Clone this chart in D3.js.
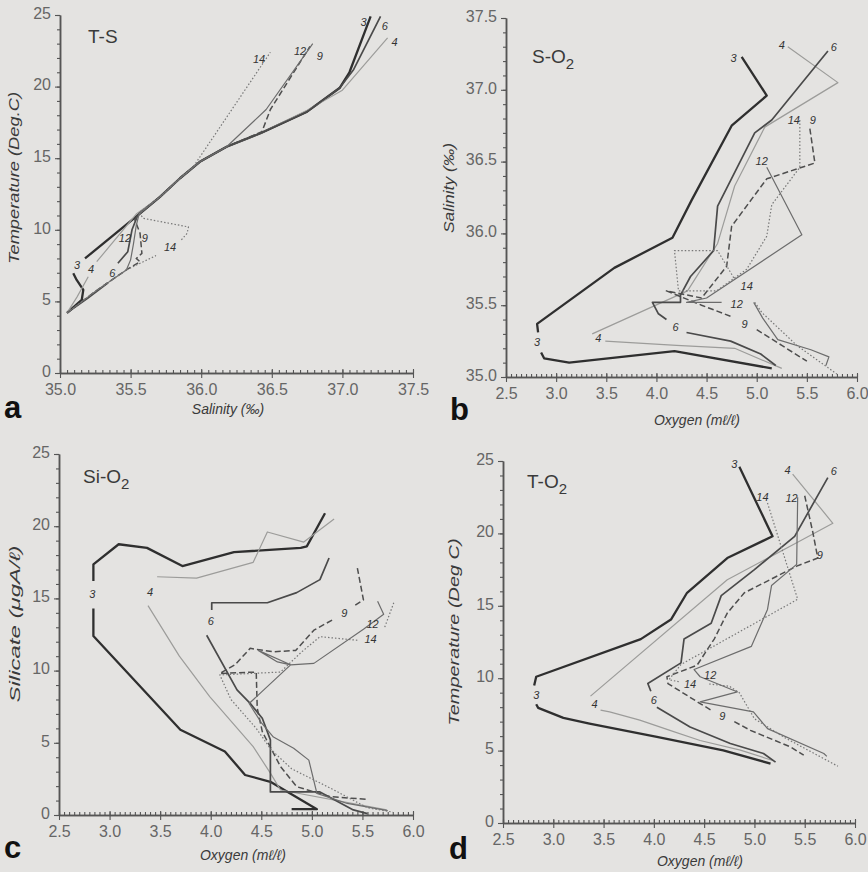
<!DOCTYPE html>
<html><head><meta charset="utf-8">
<script src="https://cdn.jsdelivr.net/npm/d3@7"></script>
<style>body{margin:0;background:#e4e3e1;} svg{display:block;}</style>
</head><body><svg id="c" width="868" height="872"></svg>
<script>
// ---------- Panel a: T-S  [salinity, temperature] ----------
const tsS3 = [[35.05,4.2],[35.154,5.1],[35.165,5.8],[35.118,6.5],[35.094,6.96],null,[35.177,8.0],[35.567,11.15],[35.708,12.3],[35.85,13.6],[35.99,14.75],[36.18,15.8],[36.42,16.74],[36.75,18.25],[36.98,19.9],[37.05,21.0],[37.2,24.9]];
const tsS4 = [[35.05,4.2],[35.12,5.3],[35.2,6.72],null,[35.26,7.77],[35.54,11.1],[35.708,12.3],[35.85,13.6],[35.99,14.75],[36.18,15.8],[36.42,16.74],[36.75,18.35],[37.0,19.75],[37.32,23.4]];
const tsS6 = [[35.05,4.2],[35.2,5.25],[35.34,6.3],null,[35.41,7.66],[35.48,8.47],[35.51,10.0],[35.55,11.0],[35.708,12.3],[35.85,13.6],[35.99,14.75],[36.18,15.8],[36.42,16.74],[36.75,18.25],[36.98,19.9],[37.08,21.2],[37.27,24.9]];
const tsS9 = [[35.05,4.2],[35.25,5.7],[35.47,7.2],[35.567,7.77],[35.54,8.0],[35.58,8.35],[35.567,9.75],[35.53,10.7],[35.56,11.15],[35.708,12.3],[35.85,13.6],[35.99,14.75],[36.18,15.8],[36.43,16.85],[36.49,18.4],[36.77,22.8]];
const tsS12 = [[35.05,4.2],[35.25,5.7],[35.47,7.2],[35.5,7.9],[35.52,9.0],[35.54,10.3],[35.56,11.1],[35.708,12.3],[35.85,13.6],[35.99,14.75],[36.18,15.8],[36.46,18.4],[36.79,23.0]];
const tsS14 = [[35.05,4.2],[35.25,5.7],[35.47,7.2],[35.68,8.2],null,[35.86,9.3],[35.9,9.75],[35.91,10.2],[35.59,10.8],[35.56,11.2],[35.708,12.3],[35.85,13.6],[35.944,14.4],[36.49,22.4]];
const tsLabels = [["3",37.15,24.5],["6",37.3,24.2],["4",37.37,23.1],["12",36.7,22.5],["9",36.84,22.1],["14",36.41,21.9],["3",35.12,7.5],["4",35.22,7.25],["6",35.37,7.0],["12",35.46,9.4],["9",35.6,9.4],["14",35.78,8.8]];

// ---------- Panel b: S-O2  [oxygen, salinity] ----------
const sbS3 = [[4.85,37.23],[5.1,36.96],[4.75,36.75],[4.35,36.23],[4.16,35.97],[3.58,35.76],[2.81,35.37],[2.82,35.31],null,[2.85,35.17],[2.88,35.13],[3.13,35.1],[4.18,35.18],[5.15,35.06]];
const sbS4 = [[5.31,37.3],[5.81,37.05],[5.08,36.74],[4.78,36.33],[4.61,35.93],[4.31,35.6],[3.36,35.3],null,[3.49,35.25],[4.2,35.22],[4.78,35.2],[5.25,35.06]];
const sbS6 = [[5.71,37.27],[5.15,36.79],[4.98,36.7],[4.61,36.19],[4.57,35.88],[4.34,35.7],[4.24,35.57],[4.24,35.52],[3.96,35.52],[4.02,35.44],[4.1,35.4],null,[4.3,35.31],[4.74,35.25],[5.04,35.16],[5.19,35.08]];
const sbS9 = [[5.53,36.73],[5.58,36.49],[5.1,36.38],[4.75,36.05],[4.7,35.77],[4.45,35.55],[4.1,35.6],[4.45,35.5],[4.75,35.42],null,[5.0,35.33],[5.25,35.22],[5.5,35.11]];
const sbS12 = [[5.1,36.46],[5.45,35.99],[4.5,35.55],[4.3,35.52],[4.65,35.52],null,[4.97,35.52],[5.06,35.41],[5.21,35.26],[5.54,35.19],[5.72,35.14],[5.69,35.08]];
const sbS14 = [[5.43,36.79],[5.43,36.46],[5.15,36.2],[5.1,35.98],[4.9,35.75],[4.6,35.6],[4.22,35.6],[4.18,35.88],[4.61,35.88],[4.78,35.68],null,[4.98,35.52],[5.05,35.45],[5.4,35.22],[5.8,35.02]];
const sbLabels = [["3",4.77,37.22],["4",5.25,37.31],["6",5.77,37.3],["14",5.37,36.79],["9",5.56,36.79],["12",5.05,36.5],["3",2.81,35.24],["4",3.42,35.27],["6",4.19,35.35],["12",4.8,35.51],["9",4.88,35.37],["14",4.9,35.63]];

// ---------- Panel c: Si-O2  [oxygen, silicate] ----------
const csS3 = [[4.8,0.4],[5.05,0.4],[4.59,2.3],[4.34,2.77],[4.14,4.4],[3.7,5.9],[2.84,12.4],[2.84,14.3],null,[2.84,16.2],[2.84,17.36],[3.09,18.75],[3.37,18.5],[3.72,17.24],[4.23,18.2],[4.89,18.5],[4.95,18.6],[5.13,20.9]];
const csS4 = [[5.74,0.35],[4.69,1.73],[4.59,2.9],[4.42,4.73],[3.99,8.2],[3.69,11.0],[3.38,14.5],null,[3.47,16.5],[3.86,16.4],[4.42,17.5],[4.56,19.6],[4.92,18.9],[5.22,20.5]];
const csS6 = [[5.17,17.8],[5.08,16.3],[4.85,15.4],[4.56,14.7],[4.01,14.7],[4.01,14.2],null,[3.96,12.45],[4.26,8.66],[4.39,7.73],[4.51,6.7],[4.59,5.2],[4.59,1.6],[5.08,1.6],[5.41,0.35],[5.55,0.1]];
const csS9 = [[5.45,17.1],[5.51,14.9],[5.42,14.5],null,[5.2,13.5],[5.02,12.8],[4.84,11.4],[4.62,11.3],[4.39,11.54],[4.24,10.4],[4.09,9.8],[4.45,9.9],[4.46,7.4],[4.51,5.77],[4.69,3.35],[4.85,1.96],[5.18,1.27],[5.55,1.08]];
const csS12 = [[5.65,14.8],[5.71,13.9],[5.51,12.86],[5.02,10.5],[4.79,10.4],[4.66,10.6],[4.47,11.4],[4.79,10.4],[4.38,7.72],[4.5,6.4],[4.62,5.4],[4.82,4.62],[4.97,3.8],[5.05,1.5],[5.35,0.8],[5.75,0.3]];
const csS14 = [[5.81,14.7],[5.72,13.0],null,[5.45,12.1],[5.08,12.35],[4.9,11.3],[4.69,9.9],[4.09,9.7],[4.2,8.0],[4.45,6.0],[4.6,4.5],[4.8,3.2],[5.2,1.8],[5.55,0.5],[5.8,0.2]];
const csLabels = [["3",2.83,15.3],["4",3.4,15.4],["6",4.0,13.4],["9",5.32,13.95],["12",5.6,13.2],["14",5.58,12.2]];

// ---------- Panel d: T-O2  [oxygen, temperature] ----------
const dtS3 = [[4.85,24.6],[5.18,19.8],[4.73,18.3],[4.33,15.9],[4.17,14.05],[3.87,12.7],[2.83,10.1],[2.81,9.5],null,[2.83,8.2],[2.85,7.95],[3.1,7.26],[3.36,6.87],[4.03,5.94],[4.69,5.02],[5.16,4.1]];
const dtS4 = [[5.38,24.1],[5.78,20.7],[5.42,19.35],[4.73,16.8],[3.37,8.76],null,[3.47,7.8],[3.56,7.67],[3.86,7.1],[4.16,6.4],[4.46,5.7],[4.86,5.03],[5.19,4.3]];
const dtS6 = [[5.73,23.85],[5.4,19.8],[5.0,17.5],[4.67,15.7],[4.57,13.8],[4.3,12.7],[4.27,11.06],[3.94,9.63],[3.97,9.1],null,[4.03,8.0],[4.36,6.63],[4.76,5.49],[5.09,4.8],[5.21,4.2]];
const dtS9 = [[5.5,22.6],[5.58,20.1],[5.63,18.3],[5.42,17.74],[4.9,15.9],[4.73,14.5],[4.6,12.7],[4.43,10.9],[4.13,10.1],[4.14,9.63],[4.46,8.25],[4.58,7.75],null,[4.8,7.0],[4.96,6.4],[5.36,5.25],[5.49,4.68]];
const dtS12 = [[5.43,22.5],[5.42,17.86],[5.17,16.4],[5.13,14.75],[4.97,12.2],[4.4,10.6],[4.46,10.1],[4.79,9.17],[4.83,9.06],[4.46,8.36],[4.99,7.67],[5.13,6.52],[5.69,4.8],[5.72,4.6]];
const dtS14 = [[5.13,22.1],[5.43,15.45],[4.27,10.95],[4.15,9.9],[4.25,9.75],null,[4.55,9.6],[4.75,9.45],[4.85,9.0],[5.0,7.2],[5.3,5.9],[5.83,3.92]];
const dtLabels = [["3",4.8,24.8],["4",5.33,24.4],["6",5.79,24.3],["14",5.08,22.5],["12",5.37,22.4],["9",5.65,18.5],["3",2.83,8.8],["4",3.41,8.2],["6",4.0,8.5],["12",4.56,10.2],["14",4.36,9.6],["9",4.68,7.35]];

const stations = ["3","4","6","9","12","14"];
const styles = {
  "3": {stroke:"#2f2f2f", w:2.3, dash:null},
  "4": {stroke:"#9c9c9a", w:1.2, dash:null},
  "6": {stroke:"#4a4a4a", w:1.7, dash:null},
  "9": {stroke:"#4e4e4e", w:1.5, dash:"6,3"},
  "12": {stroke:"#6c6c6c", w:1.2, dash:null},
  "14": {stroke:"#777777", w:1.2, dash:"1.5,2"}
};

const svg = d3.select('#c');
svg.append('rect').attr('width',868).attr('height',872).attr('fill','#e4e3e1');

function panel(cfg){
  const x = d3.scaleLinear().domain(cfg.xDomain).range(cfg.xRange);
  const y = d3.scaleLinear().domain(cfg.yDomain).range(cfg.yRange);
  const g = svg.append('g');
  const y0 = cfg.yRange[0], x0 = cfg.xRange[0];

  const gxm = g.append('g').attr('transform',`translate(0,${y0})`)
    .call(d3.axisTop(x).tickValues(cfg.xMinor).tickSize(3).tickSizeOuter(0).tickFormat(''));
  const gym = g.append('g').attr('transform',`translate(${x0},0)`)
    .call(d3.axisLeft(y).tickValues(cfg.yMinor).tickSize(3).tickSizeOuter(0).tickFormat(''));
  const gx = g.append('g').attr('transform',`translate(0,${y0})`)
    .call(d3.axisBottom(x).tickValues(cfg.xMajor).tickSize(5).tickPadding(6).tickSizeOuter(0).tickFormat(d3.format('.1f')));
  const gy = g.append('g').attr('transform',`translate(${x0},0)`)
    .call(d3.axisLeft(y).tickValues(cfg.yMajor).tickSize(5).tickPadding(4).tickSizeOuter(0).tickFormat(cfg.yFmt));
  [gxm,gym,gx,gy].forEach(a=>{
    a.selectAll('path.domain').attr('stroke','#555').attr('stroke-width',1.5);
    a.selectAll('.tick line').attr('stroke','#555').attr('stroke-width',1.1);
    a.selectAll('.tick text').attr('fill','#666').attr('font-size',16)
      .attr('font-family','Liberation Sans, Arial, sans-serif');
  });
  gx.selectAll('.tick line').attr('y1',-4);
  gy.selectAll('.tick text').attr('dy','0.2em');

  const line = d3.line().defined(d=>d!=null).x(d=>x(d[0])).y(d=>y(d[1]));
  cfg.series.forEach((s,i)=>{
    const st = styles[stations[i]];
    g.append('path').datum(s).attr('d',line).attr('fill','none')
      .attr('stroke',st.stroke).attr('stroke-width',st.w)
      .attr('stroke-dasharray',st.dash).attr('stroke-linejoin','round');
  });
  g.selectAll('text.st').data(cfg.labels).enter().append('text').attr('class','st')
    .attr('x',d=>x(d[1])).attr('y',d=>y(d[2])).attr('text-anchor','middle').attr('dy','0.35em')
    .attr('font-size',11).attr('font-style','italic').attr('fill','#333')
    .attr('font-family','Liberation Sans, Arial, sans-serif').text(d=>d[0]);

  const tt = g.append('text').attr('x',cfg.title.x).attr('y',cfg.title.y)
    .attr('font-size',19).attr('fill','#3a3a3a').attr('font-family','Liberation Sans, Arial, sans-serif')
    .text(cfg.title.t);
  if (cfg.title.sub){
    tt.append('tspan').attr('dy',6).attr('font-size',15).text(cfg.title.sub);
  }
  g.append('text').attr('x',cfg.xTitle.x).attr('y',cfg.xTitle.y).attr('text-anchor','middle')
    .attr('font-size',14).attr('font-style','italic').attr('fill','#3a3a3a')
    .attr('font-family','Liberation Sans, Arial, sans-serif').text(cfg.xTitle.t);
  g.append('text').attr('transform',`translate(${cfg.yTitle.x},${cfg.yTitle.y}) rotate(-90)`)
    .attr('text-anchor','middle').attr('dy','0.35em')
    .attr('font-size',15).attr('font-style','italic').attr('fill','#3a3a3a')
    .attr('textLength',cfg.yTitle.len).attr('lengthAdjust','spacingAndGlyphs')
    .attr('font-family','Liberation Sans, Arial, sans-serif').text(cfg.yTitle.t);
  g.append('text').attr('x',cfg.letter.x).attr('y',cfg.letter.y)
    .attr('font-size',31).attr('font-weight','bold').attr('fill','#111')
    .attr('font-family','Liberation Sans Narrow, Liberation Sans, Arial, sans-serif')
    .text(cfg.letter.t);
}

const oxMajor = d3.range(2.5,6.01,0.5), oxMinor = d3.range(2.5,6.001,0.05);
const t25Major = [0,5,10,15,20,25], t25Minor = d3.range(0,25.01,1);
const intFmt = d3.format('d');

panel({xDomain:[35,37.5], xRange:[60,413], yDomain:[0,25], yRange:[373,15],
  xMajor:d3.range(35,37.51,0.5), xMinor:d3.range(35,37.501,0.05), yMajor:t25Major, yMinor:t25Minor, yFmt:intFmt,
  series:[tsS3,tsS4,tsS6,tsS9,tsS12,tsS14], labels:tsLabels,
  title:{t:"T-S",x:88,y:43}, xTitle:{t:"Salinity (‰)",x:228,y:414},
  yTitle:{t:"Temperature (Deg.C)",x:14,y:178,len:172}, letter:{t:"a",x:4,y:418}});

panel({xDomain:[2.5,6], xRange:[506,857], yDomain:[35,37.5], yRange:[377,18],
  xMajor:oxMajor, xMinor:oxMinor, yMajor:d3.range(35,37.51,0.5), yMinor:d3.range(35,37.501,0.1), yFmt:d3.format('.1f'),
  series:[sbS3,sbS4,sbS6,sbS9,sbS12,sbS14], labels:sbLabels,
  title:{t:"S-O",sub:"2",x:532,y:63}, xTitle:{t:"Oxygen (mℓ/ℓ)",x:697,y:425},
  yTitle:{t:"Salinity (‰)",x:449,y:188,len:90}, letter:{t:"b",x:450,y:420}});

panel({xDomain:[2.5,6], xRange:[59,413], yDomain:[0,25], yRange:[815,454],
  xMajor:oxMajor, xMinor:oxMinor, yMajor:t25Major, yMinor:t25Minor, yFmt:intFmt,
  series:[csS3,csS4,csS6,csS9,csS12,csS14], labels:csLabels,
  title:{t:"Si-O",sub:"2",x:83,y:483}, xTitle:{t:"Oxygen (mℓ/ℓ)",x:243,y:860},
  yTitle:{t:"Silicate (μgA/ℓ)",x:15,y:624,len:157}, letter:{t:"c",x:4,y:858}});

panel({xDomain:[2.5,6], xRange:[503,855], yDomain:[0,25], yRange:[823,461],
  xMajor:oxMajor, xMinor:oxMinor, yMajor:t25Major, yMinor:t25Minor, yFmt:intFmt,
  series:[dtS3,dtS4,dtS6,dtS9,dtS12,dtS14], labels:dtLabels,
  title:{t:"T-O",sub:"2",x:527,y:488}, xTitle:{t:"Oxygen (mℓ/ℓ)",x:700,y:866},
  yTitle:{t:"Temperature (Deg C)",x:454,y:632,len:187}, letter:{t:"d",x:449,y:859}});
</script>
</body></html>
